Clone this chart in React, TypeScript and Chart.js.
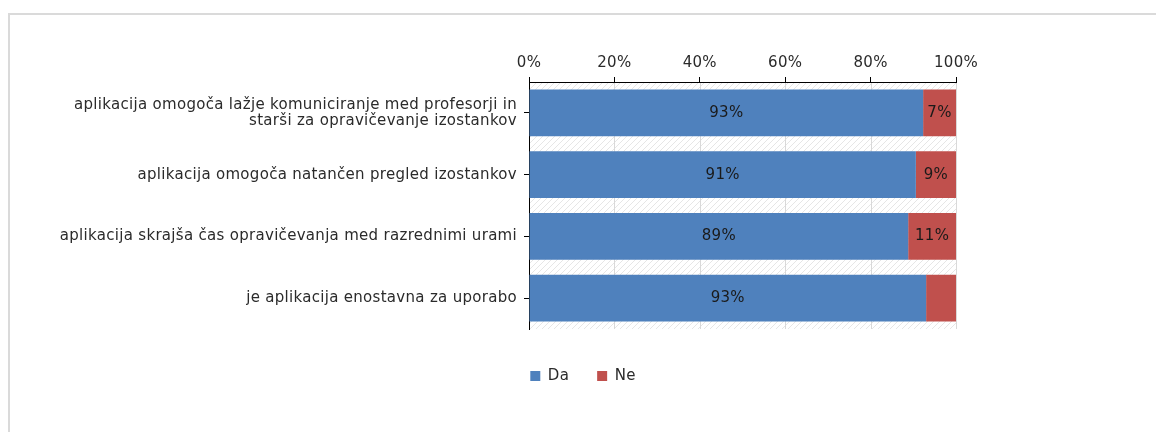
import React, { useEffect, useRef } from "react";
import { Chart, registerables } from "chart.js";

Chart.register(...registerables);

const categories: (string | string[])[] = [
  ["aplikacija omogoča lažje komuniciranje med profesorji in", "starši za opravičevanje izostankov"],
  "aplikacija omogoča natančen pregled izostankov",
  "aplikacija skrajša čas opravičevanja med razrednimi urami",
  "je aplikacija enostavna za uporabo",
];
const daValues = [92.3, 90.6, 88.8, 93.0];
const neValues = [7.7, 9.4, 11.2, 7.0];
const daLabels = ["93%", "91%", "89%", "93%"];
const neLabels = ["7%", "9%", "11%", ""];
const seriesNames = ["Da", "Ne"];
const xTicks = [0, 20, 40, 60, 80, 100];

const FONT = "'DejaVu Sans', Verdana, sans-serif";
const SPACING = "0.3px";

const spacingPlugin = {
  id: "spacing",
  beforeInit(chart: any) {
    (chart.ctx as any).letterSpacing = SPACING;
  },
  beforeLayout(chart: any) {
    (chart.ctx as any).letterSpacing = SPACING;
  },
  afterLayout(chart: any) {
    const lg = chart.legend;
    if (lg) {
      lg.left = 0;
      lg.right = chart.width;
      lg.width = chart.width;
      const shift = 11.5;
      lg.top += shift;
      lg.bottom += shift;
    }
  },
};

const hatchPlugin = {
  id: "hatch",
  beforeDraw(chart: any) {
    const { ctx, chartArea } = chart;
    (ctx as any).letterSpacing = SPACING;
    const pc = document.createElement("canvas");
    pc.width = 6;
    pc.height = 6;
    const p = pc.getContext("2d")!;
    p.fillStyle = "#ffffff";
    p.fillRect(0, 0, 6, 6);
    p.strokeStyle = "#e6e6e6";
    p.lineWidth = 1;
    p.beginPath();
    p.moveTo(0, 6);
    p.lineTo(6, 0);
    p.moveTo(-3, 3);
    p.lineTo(3, -3);
    p.moveTo(3, 9);
    p.lineTo(9, 3);
    p.stroke();
    const pat = ctx.createPattern(pc, "repeat");
    ctx.save();
    ctx.fillStyle = pat;
    ctx.fillRect(chartArea.left, chartArea.top, chartArea.right - chartArea.left, chartArea.bottom - chartArea.top);
    const xs = chart.scales.x;
    ctx.strokeStyle = "#d9d9d9";
    ctx.lineWidth = 1;
    xTicks.forEach((t) => {
      const px = Math.round(xs.getPixelForValue(t)) + 0.5;
      ctx.beginPath();
      ctx.moveTo(px, chartArea.top);
      ctx.lineTo(px, chartArea.bottom);
      ctx.stroke();
    });
    ctx.restore();
  },
};

const labelPlugin = {
  id: "barLabels",
  afterDatasetsDraw(chart: any) {
    const { ctx } = chart;
    const allLabels = [daLabels, neLabels];
    ctx.save();
    ctx.font = `15px ${FONT}`;
    ctx.fillStyle = "#1a1a1a";
    ctx.textAlign = "center";
    ctx.textBaseline = "middle";
    chart.data.datasets.forEach((ds: any, di: number) => {
      const meta = chart.getDatasetMeta(di);
      meta.data.forEach((el: any, i: number) => {
        const txt = allLabels[di][i];
        if (!txt) return;
        const cx = (el.x + el.base) / 2;
        ctx.fillText(txt, cx, el.y);
      });
    });
    ctx.restore();
  },
};

export default function App() {
  const ref = useRef<HTMLCanvasElement>(null);
  useEffect(() => {
    if (!ref.current) return;
    const chart = new Chart(ref.current, {
      type: "bar",
      data: {
        labels: categories as any,
        datasets: [
          {
            label: seriesNames[0],
            data: daValues,
            backgroundColor: "#4F81BD",
            categoryPercentage: 0.76,
            barPercentage: 1,
          },
          {
            label: seriesNames[1],
            data: neValues,
            backgroundColor: "#C0504D",
            categoryPercentage: 0.76,
            barPercentage: 1,
          },
        ],
      },
      options: {
        indexAxis: "y",
        responsive: false,
        animation: false,
        layout: { padding: { left: 0, right: 200, top: 0, bottom: 50 } },
        scales: {
          x: {
            position: "top",
            stacked: true,
            min: 0,
            max: 100,
            afterFit: (s: any) => {
              s.height = 67;
            },
            afterBuildTicks: (s: any) => {
              s.ticks = xTicks.map((v) => ({ value: v }));
            },
            ticks: {
              callback: (v: any) => `${v}%`,
              font: { family: FONT, size: 15 },
              color: "#2b2b2b",
              padding: 5,
            },
            grid: {
              color: "rgba(0,0,0,0)",
              tickColor: "#000000",
              tickLength: 5,
            },
            border: { display: true, color: "#000000", width: 1 },
          },
          y: {
            stacked: true,
            afterFit: (s: any) => {
              s.width = 519;
            },
            ticks: {
              font: { family: FONT, size: 15, lineHeight: 1.1 },
              color: "#2b2b2b",
              padding: 7,
            },
            grid: {
              offset: false,
              drawOnChartArea: false,
              tickColor: "#000000",
              tickLength: 5,
            },
            border: { display: true, color: "#000000", width: 1 },
          },
        },
        plugins: {
          legend: {
            position: "bottom",
            labels: {
              boxWidth: 10,
              boxHeight: 10,
              padding: 28,
              font: { family: FONT, size: 15 },
              color: "#2b2b2b",
            },
          },
          tooltip: { enabled: false },
        },
      },
      plugins: [spacingPlugin, hatchPlugin, labelPlugin],
    });
    return () => chart.destroy();
  }, []);
  return (
    <div
      style={{
        position: "absolute",
        left: 8,
        top: 13,
        right: 0,
        bottom: 0,
        borderTop: "2px solid #dadada",
        borderLeft: "2px solid #dadada",
        overflow: "hidden",
      }}
    >
      <canvas ref={ref} width={1146} height={417} style={{ display: "block" }} />
    </div>
  );
}
